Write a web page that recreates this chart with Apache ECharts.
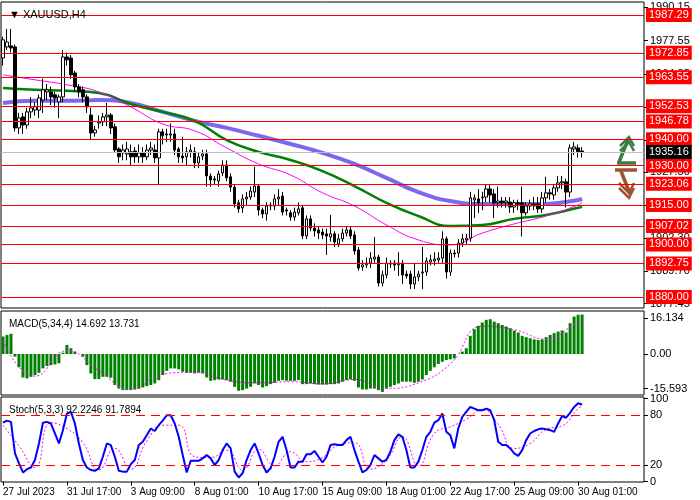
<!DOCTYPE html>
<html>
<head>
<meta charset="utf-8">
<script src="https://cdn.jsdelivr.net/npm/echarts@6/dist/echarts.min.js"></script>
<style>html,body{margin:0;padding:0;background:#fff}#chart{width:700px;height:500px}</style>
</head>
<body>
<div id="chart"></div>
<script>
// XAUUSD H4 candles: [open, close, low, high]
var candles = [
  [1970.9,1977.8,1968,1979],[1975.1,1977.0,1974,1982],[1975.5,1974.7,1973,1982],[1975.1,1944.3,1943,1976],
  [1944.3,1948.1,1942,1950],[1948.5,1945.4,1942,1950],[1945.4,1950.4,1944,1952],[1950.4,1951.9,1948,1956],
  [1951.1,1952.3,1949,1954],[1951.1,1955.7,1948,1957],[1954.9,1958.8,1950,1963],[1958.0,1958.8,1955,1961],
  [1958.0,1956.1,1953,1960],[1956.9,1955.7,1952,1958],[1954.2,1956.1,1948,1957],[1956.1,1971.3,1954,1974],
  [1971.3,1970.2,1968,1973],[1970.9,1964.5,1963,1972],[1965.2,1959.9,1958,1966],[1959.9,1958.0,1956,1961],
  [1958.8,1956.1,1954,1960],[1956.1,1952.3,1950,1957],[1949.2,1942.4,1940,1952],[1942.4,1943.5,1941,1945],
  [1946.2,1946.6,1944,1949],[1946.6,1948.5,1945,1950],[1948.5,1949.2,1945,1953.8],[1949.2,1944.3,1942,1950],
  [1944.7,1935.9,1935,1946],[1936.3,1933.3,1931,1937],[1934.8,1935.9,1932,1938],[1934.4,1936.3,1932,1939],
  [1935.2,1933.3,1930,1938],[1935.5,1933.3,1931,1937],[1933.3,1934.8,1931,1938],[1934.8,1933.3,1931,1937],
  [1933.3,1935.9,1932,1938],[1935.9,1936.7,1934,1939],[1935.9,1932.9,1931,1938],[1932.9,1942.8,1922.6,1944],
  [1942.8,1941.3,1938,1944],[1942.0,1941.6,1939,1944],[1941.6,1942.0,1939,1946],[1942.0,1935.9,1934,1944],
  [1936.3,1933.3,1931,1937],[1933.6,1932.9,1931,1941],[1933.3,1935.2,1930,1937],[1935.2,1935.9,1933,1938],
  [1935.2,1931.0,1929,1937],[1931.0,1933.3,1929,1935],[1933.6,1934.4,1932,1936],[1934.4,1926.0,1922,1936],
  [1926.0,1924.5,1922,1927],[1924.9,1924.5,1923,1926],[1924.1,1926.8,1922,1928],[1927.2,1930.2,1926,1932],
  [1930.2,1925.3,1924,1932],[1925.7,1921.8,1920,1927],[1921.8,1915.4,1914,1923],[1915.8,1913.5,1912,1917],
  [1913.9,1917.3,1912,1919],[1917.3,1918.0,1915,1920],[1918.0,1920.3,1917,1922],[1919.9,1922.2,1918,1929.5],
  [1922.2,1913.1,1911,1923],[1913.1,1911.6,1910,1914],[1911.6,1914.6,1909,1916],[1914.6,1915.0,1913,1916],
  [1914.6,1917.3,1913,1919],[1917.3,1918.0,1915,1921],[1918.4,1912.3,1911,1920],[1913.1,1912.7,1911,1914],
  [1912.0,1910.4,1909,1913],[1910.4,1912.3,1909,1914],[1912.0,1913.5,1911,1916],[1913.9,1903.2,1902,1915],
  [1903.2,1909.7,1902,1911],[1909.7,1906.2,1905,1911],[1906.2,1905.1,1903,1908],[1905.5,1904.3,1902,1907],
  [1904.7,1903.6,1902,1906],[1904.0,1903.2,1896,1906],[1902.8,1904.0,1901,1911.2],[1904.0,1900.9,1899,1905],
  [1900.2,1902.1,1899,1904],[1902.1,1904.3,1901,1906],[1904.3,1905.5,1903,1907],[1905.5,1903.2,1902,1907],
  [1903.6,1897.5,1896,1905],[1897.9,1891.0,1890,1899],[1891.4,1892.2,1890,1894],[1892.2,1892.9,1891,1895],
  [1892.9,1894.8,1891,1897],[1894.4,1895.2,1893,1902.8],[1895.2,1885.3,1884,1896],[1885.3,1888.4,1884,1890],
  [1888.4,1892.9,1887,1895],[1892.5,1892.9,1891,1894],[1892.9,1892.2,1890,1894],[1892.2,1892.9,1888,1897],
  [1892.9,1888.4,1885,1894],[1888.7,1888.0,1887,1890],[1888.7,1884.9,1883,1890],[1884.9,1887.6,1883,1893],
  [1887.6,1888.7,1886,1890],[1889.1,1889.5,1883,1899],[1889.5,1893.7,1888,1895],[1893.3,1894.1,1892,1896],
  [1893.7,1894.4,1892,1897],[1894.1,1894.8,1893,1897],[1894.8,1902.1,1893,1905],[1902.1,1889.5,1887,1903],
  [1889.5,1896.7,1888,1898],[1896.7,1896.4,1895,1898],[1896.7,1900.5,1895,1902],[1900.5,1902.1,1899,1904],
  [1901.7,1902.4,1900,1904],[1902.4,1917.7,1901,1920],[1916.9,1917.7,1910,1919],[1917.3,1915.8,1912,1921],
  [1917.7,1918.0,1913,1920],[1918.0,1921.1,1916,1923],[1921.1,1918.8,1916,1923],[1919.2,1915.8,1910,1921],
  [1915.8,1916.5,1914,1922],[1916.5,1915.8,1914,1918],[1915.8,1916.5,1914,1918],[1916.1,1914.2,1912,1918],
  [1914.2,1915.8,1912,1917],[1915.8,1915.4,1913,1917],[1915.8,1912.0,1903,1922],[1912.0,1914.6,1911,1916],
  [1914.6,1915.4,1913,1917],[1915.4,1914.6,1913,1918],[1915.4,1913.5,1912,1918],[1913.5,1917.7,1912,1920],
  [1917.7,1919.6,1916,1925.7],[1919.6,1919.2,1917,1921],[1918.8,1921.5,1917,1923],[1921.5,1923.4,1920,1926],
  [1923.4,1923.8,1921,1926],[1923.8,1919.9,1914,1925],[1919.9,1936.7,1918,1938],[1936.3,1937.1,1934,1939],
  [1936.7,1935.2,1933,1938],[1935.5,1935.16,1933,1937]
];

// moving averages sampled every 8 bars: [barIndex, value]
var maFast = [[0,1964.5],[8,1962.6],[16,1960.7],[24,1958.0],[32,1952.3],[40,1945.8],[48,1943.2],[56,1936.7],
  [64,1930.6],[72,1926.4],[80,1919.6],[88,1914.6],[96,1907.4],[104,1901.7],[112,1899.8],[120,1904.3],
  [128,1907.8],[136,1910.8],[144,1915.0],[145,1916.1]];
var maMid = [[0,1959.5],[8,1958.8],[16,1958.4],[24,1957.6],[32,1953.4],[40,1950.4],[48,1947.0],[56,1939.7],
  [64,1935.2],[72,1932.1],[80,1927.9],[88,1922.2],[96,1915.8],[104,1910.8],[112,1907.0],[120,1907.4],
  [128,1909.7],[136,1911.2],[144,1913.9],[145,1914.2]];
var maSlow = [[0,1953.8],[8,1954.6],[16,1954.6],[24,1954.9],[32,1953.8],[40,1950.4],[48,1947.0],[56,1944.3],
  [64,1941.3],[72,1938.2],[80,1934.8],[88,1930.6],[96,1925.3],[104,1919.9],[112,1916.5],[120,1915.4],
  [128,1915.4],[136,1915.4],[144,1916.9],[145,1917.3]];

var levels = [1987.29,1972.85,1963.55,1952.53,1946.78,1940.00,1930.00,1923.06,1915.00,1907.02,1900.00,1892.75,1880.00];
var lastPrice = 1935.16;
var priceTicks = [1990.15,1977.55,1964.85,1952.30,1939.75,1927.50,1914.95,1902.30,1889.70,1877.45];

var macdHist = [7.9,8.6,9.1,-1.2,-6.0,-10.6,-11.0,-10.3,-9.5,-8.5,-6.5,-5.4,-5.0,-4.7,-4.2,0.6,
  4.1,2.6,1.1,0,-1.2,-5.0,-8.8,-11.3,-11.3,-10.3,-10.3,-10.7,-14.0,-15.6,-16.3,-16.3,
  -16.3,-16.0,-15.7,-15.1,-14.5,-14.0,-13.3,-11.8,-9.5,-7.6,-6.5,-6.5,-6.9,-8.0,-8.5,-8.5,
  -8.8,-8.5,-8.8,-10.6,-12.1,-11.8,-11.5,-11.5,-11.8,-12.5,-14.8,-16.6,-16.3,-15.6,-14.8,-13.3,
  -14.0,-15.1,-14.5,-13.6,-13.0,-12.1,-11.8,-12.1,-12.1,-12.1,-11.8,-13.6,-13.6,-13.3,-13.6,-13.8,
  -13.8,-13.8,-13.6,-13.6,-13.3,-12.5,-11.8,-11.5,-12.1,-15.1,-16.0,-16.0,-15.6,-15.6,-16.3,-17.1,
  -15.6,-14.8,-14.0,-13.3,-12.5,-12.5,-12.5,-13.0,-12.5,-11.5,-9.5,-7.6,-6.0,-4.5,-3.5,-2.7,
  -2.4,-2.0,0,1.1,2.6,8.2,11.2,12.7,14.2,15.4,15.7,14.6,13.9,13.1,12.4,11.6,
  10.6,9.7,8.2,7.6,7.1,6.6,6.3,6.6,7.6,8.6,9.4,10.1,10.6,9.7,13.9,16.9,17.7,17.8];
var macdSignal = [[0,6.0],[8,-10.0],[16,1.5],[24,-7.5],[32,-16.0],[40,-9.0],[48,-8.2],[56,-11.8],[64,-13.0],
  [72,-12.5],[80,-13.5],[88,-11.5],[96,-15.5],[104,-13.0],[112,-4.5],[120,12.5],[128,11.0],[136,6.7],
  [144,14.0],[145,14.3]];
var macdTicks = [16.134, 0, -15.593];

var stochK = [71,73.5,72,34,22,11,15,17,26,46,71,72,70,58,46,62,82,84,70,46,26,17,14,13,16,30,46,44,30,13,12,12,
  21,26,44,48,56,64,61,68,73.5,80,80,70,54,32,11,25,25,25,28,32,28,20,26,38,46,40,12,5,10,26,38,46,34,20,
  11,16,30,48,54,38,17,17,24,24,33,33,37,30,23,30,44,45,44,44,50,54,38,24,11,14,20,32,28,24,26,36,50,57,
  54,38,17,17,24,38,54,60,71,74,82,60,56,40,64,78,84,90,88,86,86,88,86,74,48,44,44,40,34,31,38,50,58,61,
  63,64,63,62,60,70,79,77,83,90,94.5,93];
var stochD = [[0,68],[4,43],[8,17],[12,71],[16,64],[20,47],[24,14],[28,40],[32,15],[36,49],[40,68],[44,68],
  [48,30],[52,29],[56,38],[60,14],[64,39],[68,19],[72,36],[76,24],[80,29],[84,44],[88,47],[92,15],[96,26],
  [100,54],[104,19],[108,58],[112,66],[116,75],[120,87],[124,69],[128,40],[132,46],[136,63],[140,67],
  [144,88],[145,91]];

var dateLabels = ['27 Jul 2023','31 Jul 17:00','3 Aug 09:00','8 Aug 01:00','10 Aug 17:00',
  '15 Aug 09:00','18 Aug 01:00','22 Aug 17:00','25 Aug 09:00','30 Aug 01:00'];

var totalSlots = 161;
var cats = [];
for (var i = 0; i < totalSlots; i++) cats.push(String(i));

var font = '"Liberation Sans", Arial, sans-serif';

function showDate(i) { return i % 16 === 0 && i / 16 < dateLabels.length; }

function xAxisFor(idx, showLabels) {
    return {
        type: 'category', gridIndex: idx, data: cats, boundaryGap: true,
        axisLine: {show: false}, splitLine: {show: false},
        axisTick: {show: showLabels, length: 4, alignWithLabel: true, lineStyle: {color: '#000'}, interval: showDate},
        axisLabel: {show: showLabels, color: '#000', fontSize: 10, fontFamily: font, align: 'left',
            margin: 5, interval: showDate,
            formatter: function (v) { return dateLabels[Number(v) / 16] || ''; }}
    };
}

function yAxisFor(idx, min, max, ticks, fmt) {
    return {
        type: 'value', gridIndex: idx, position: 'right', min: min, max: max,
        axisLine: {show: false}, splitLine: {show: false},
        axisTick: {show: true, length: 4, customValues: ticks, lineStyle: {color: '#000'}},
        axisLabel: {color: '#000', fontSize: 11, fontFamily: font, margin: 6, customValues: ticks,
            formatter: fmt}
    };
}

var levelLines = levels.map(function (v) {
    return {yAxis: v, lineStyle: {color: '#ff0000', width: 1.2, type: 'solid'},
        label: {formatter: v.toFixed(2), backgroundColor: '#ff0000', color: '#fff'}};
});
levelLines.push({yAxis: lastPrice, lineStyle: {color: '#c0c0c0', width: 1, type: 'solid'},
    label: {formatter: lastPrice.toFixed(2), backgroundColor: '#000', color: '#fff'}});

var dashStyle = {color: '#ff0000', type: [9, 6], width: 1};

var option = {
    backgroundColor: '#fff',
    animation: false,
    grid: [
        {left: 1, right: 56, top: 2, height: 306, show: true, borderColor: '#000', borderWidth: 1},
        {left: 1, right: 56, top: 311, height: 84, show: true, borderColor: '#000', borderWidth: 1},
        {left: 1, right: 56, top: 397, height: 85, show: true, borderColor: '#000', borderWidth: 1}
    ],
    xAxis: [xAxisFor(0, false), xAxisFor(1, false), xAxisFor(2, true)],
    yAxis: [
        yAxisFor(0, 1875.8, 1992.2, priceTicks, function (v) { return v.toFixed(2); }),
        yAxisFor(1, -18.5, 19.4, macdTicks, function (v) { return v === 0 ? '0.00' : v.toFixed(3); }),
        yAxisFor(2, -0.5, 102, [100, 80, 20, 0], function (v) { return String(v); })
    ],
    title: [
        {text: '\u25BC XAUUSD,H4', left: 4, top: 4, textStyle: {fontSize: 11, fontWeight: 'normal', color: '#000', fontFamily: font}},
        {text: 'MACD(5,34,4) 14.692 13.731', left: 4, top: 314, textStyle: {fontSize: 10, fontWeight: 'normal', color: '#000', fontFamily: font}},
        {text: 'Stoch(5,3,3) 92.2246 91.7894', left: 4, top: 400, textStyle: {fontSize: 10, fontWeight: 'normal', color: '#000', fontFamily: font}}
    ],
    series: [
        {
            type: 'candlestick', xAxisIndex: 0, yAxisIndex: 0, data: candles, barWidth: 3,
            itemStyle: {color: '#fff', color0: '#000', borderColor: '#000', borderColor0: '#000', borderWidth: 1},
            markLine: {
                symbol: 'none', silent: true, animation: false,
                label: {position: 'end', distance: 2, fontSize: 11, fontFamily: font, padding: [2, 3, 1, 3]},
                data: levelLines
            },
            z: 3
        },
        {type: 'line', xAxisIndex: 0, yAxisIndex: 0, data: maSlow, showSymbol: false, smooth: true,
            lineStyle: {color: '#7b68ee', width: 4}, z: 2},
        {type: 'line', xAxisIndex: 0, yAxisIndex: 0, data: maMid, showSymbol: false, smooth: true,
            lineStyle: {color: '#008000', width: 2.5}, z: 2},
        {type: 'line', xAxisIndex: 0, yAxisIndex: 0, data: maFast, showSymbol: false, smooth: true,
            lineStyle: {color: '#ff00ff', width: 1}, z: 2},
        {type: 'bar', xAxisIndex: 1, yAxisIndex: 1, data: macdHist, barWidth: 3,
            itemStyle: {color: '#008000'}},
        {type: 'line', xAxisIndex: 1, yAxisIndex: 1, data: macdSignal, showSymbol: false, smooth: true,
            lineStyle: {color: '#ff00ff', width: 1, type: [2, 2]}},
        {type: 'line', xAxisIndex: 2, yAxisIndex: 2, data: stochD, showSymbol: false, smooth: true,
            lineStyle: {color: '#ff00ff', width: 1, type: [2, 2]}},
        {type: 'line', xAxisIndex: 2, yAxisIndex: 2, data: stochK, showSymbol: false,
            lineStyle: {color: '#0000ff', width: 2},
            markLine: {symbol: 'none', silent: true, label: {show: false}, lineStyle: dashStyle,
                data: [{yAxis: 80, lineStyle: dashStyle}, {yAxis: 20, lineStyle: dashStyle}]}}
    ],
    graphic: [
        {type: 'polyline', shape: {points: [[617, 163], [636, 163]]}, style: {stroke: '#3a7d44', lineWidth: 3.5, fill: null}},
        {type: 'polyline', shape: {points: [[619, 162], [628, 140]]}, style: {stroke: '#3a7d44', lineWidth: 3.5, fill: null}},
        {type: 'polyline', shape: {points: [[620, 146], [629, 137], [634, 146]]}, style: {stroke: '#3a7d44', lineWidth: 2.5, fill: null}},
        {type: 'polyline', shape: {points: [[620, 151], [629, 142], [634, 151]]}, style: {stroke: '#3a7d44', lineWidth: 2.5, fill: null}},
        {type: 'polyline', shape: {points: [[615, 170], [637, 170]]}, style: {stroke: '#a0522d', lineWidth: 3.5, fill: null}},
        {type: 'polyline', shape: {points: [[621, 171], [630, 194]]}, style: {stroke: '#a0522d', lineWidth: 3.5, fill: null}},
        {type: 'polyline', shape: {points: [[619, 188], [629, 198], [634, 188]]}, style: {stroke: '#a0522d', lineWidth: 2.5, fill: null}},
        {type: 'polyline', shape: {points: [[619, 183], [629, 193], [634, 183]]}, style: {stroke: '#a0522d', lineWidth: 2.5, fill: null}}
    ]
};

var myChart = echarts.init(document.getElementById('chart'));
myChart.setOption(option);
</script>
</body>
</html>
